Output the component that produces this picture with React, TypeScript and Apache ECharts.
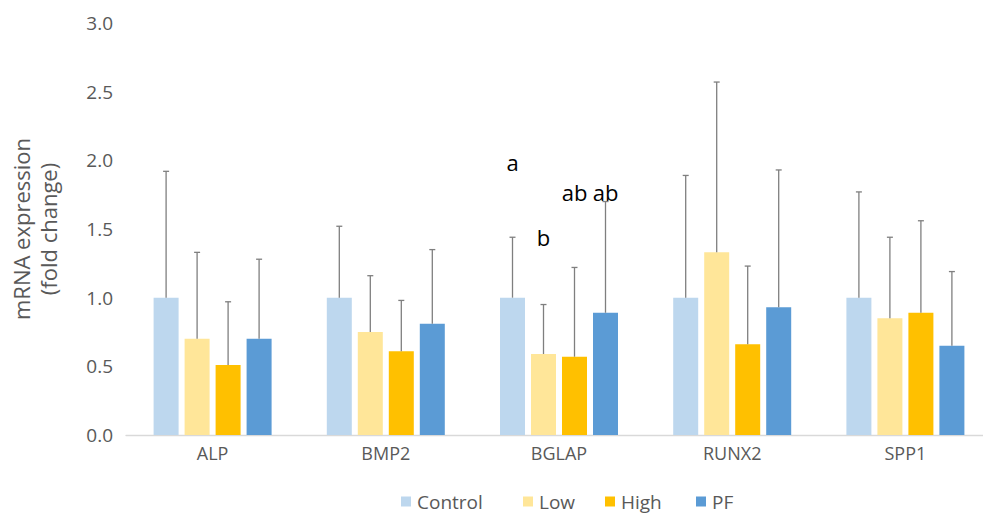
import React, { useEffect, useRef } from "react";
import * as echarts from "echarts";

const categories = ["ALP", "BMP2", "BGLAP", "RUNX2", "SPP1"];
const seriesNames = ["Control", "Low", "High", "PF"];
const controlMean = [1.0, 1.0, 1.0, 1.0, 1.0];
const controlUpper = [1.92, 1.52, 1.44, 1.89, 1.77];
const lowMean = [0.7, 0.75, 0.59, 1.33, 0.85];
const lowUpper = [1.33, 1.16, 0.95, 2.57, 1.44];
const highMean = [0.51, 0.61, 0.57, 0.66, 0.89];
const highUpper = [0.97, 0.98, 1.22, 1.23, 1.56];
const pfMean = [0.7, 0.81, 0.89, 0.93, 0.65];
const pfUpper = [1.28, 1.35, 1.7, 1.93, 1.19];
const yTicks = [0, 0.5, 1.0, 1.5, 2.0, 2.5, 3.0];
// significance letters: [category index, series index, y value, text]
const letters: [number, number, number, string][] = [
  [2, 0, 1.99, "a"],
  [2, 1, 1.44, "b"],
  [2, 2, 1.77, "ab"],
  [2, 3, 1.77, "ab"],
];

const colors = ["#BDD7EE", "#FFE699", "#FFC000", "#5B9BD5"];
const FONT = "Open Sans";
const BAR_W = 25;
const STEP = 31;

export default function App() {
  const ref = useRef<HTMLDivElement>(null);
  useEffect(() => {
    if (!ref.current) return;
    const chart = echarts.init(ref.current, null, { renderer: "svg" });
    const means = [controlMean, lowMean, highMean, pfMean];
    const uppers = [controlUpper, lowUpper, highUpper, pfUpper];

    const barSeries = seriesNames.map((name, si) => ({
      name,
      type: "bar",
      data: means[si],
      barWidth: BAR_W,
      barGap: "24%",
      itemStyle: { color: colors[si] },
      z: 2,
    }));

    const errSeries = seriesNames.map((name, si) => ({
      name: name + "-err",
      type: "custom",
      data: categories.map((_, i) => [i, means[si][i], uppers[si][i]]),
      encode: { x: 0, y: [1, 2] },
      z: 3,
      silent: true,
      renderItem: (params: any, api: any) => {
        const x = api.value(0);
        const p0 = api.coord([x, api.value(1)]);
        const p1 = api.coord([x, api.value(2)]);
        const cx = p0[0] + (si - 1.5) * STEP;
        const st = { stroke: "#7F7F7F", lineWidth: 1.3 };
        return {
          type: "group",
          children: [
            { type: "line", shape: { x1: cx, y1: p0[1], x2: cx, y2: p1[1] }, style: st },
            { type: "line", shape: { x1: cx - 3, y1: p1[1], x2: cx + 3, y2: p1[1] }, style: st },
          ],
        };
      },
    }));

    const letterSeries = {
      name: "letters",
      type: "custom",
      data: letters.map((l) => [l[0], l[1], l[2], l[3]]),
      encode: { x: 0, y: 2 },
      z: 4,
      silent: true,
      renderItem: (params: any, api: any) => {
        const x = api.value(0);
        const si = api.value(1);
        const p = api.coord([x, api.value(2)]);
        const item = letters[params.dataIndex];
        return {
          type: "text",
          x: p[0] + (si - 1.5) * STEP,
          y: p[1],
          style: {
            text: item[3],
            fontFamily: FONT,
            fontSize: 22,
            fill: "#000000",
            align: "center",
            verticalAlign: "middle",
          },
        };
      },
    };

    const legendLefts = [401, 523, 605, 696];
    chart.setOption({
      animation: false,
      backgroundColor: "#ffffff",
      grid: {
        left: 126,
        top: 23,
        width: 866,
        height: 412,
        containLabel: false,
        outerBoundsMode: "none",
      },
      legend: seriesNames.map((n, i) => ({
        data: [n],
        left: legendLefts[i],
        top: 492,
        padding: 0,
        itemWidth: 10,
        itemHeight: 10,
        icon: "rect",
        itemGap: 8,
        textStyle: {
          fontFamily: FONT,
          fontSize: 19,
          lineHeight: 19,
          color: "#595959",
          padding: [0, 0, 0, 1],
        },
        selectedMode: false,
      })),
      xAxis: {
        type: "category",
        data: categories,
        axisLine: { lineStyle: { color: "#D9D9D9", width: 1.3 } },
        axisTick: { show: false },
        axisLabel: { fontFamily: FONT, fontSize: 18, color: "#595959", margin: 9 },
      },
      yAxis: {
        type: "value",
        min: 0,
        max: 3,
        interval: 0.5,
        axisLine: { show: false },
        axisTick: { show: false },
        splitLine: { show: false },
        axisLabel: {
          fontFamily: FONT,
          fontSize: 19,
          color: "#595959",
          margin: 13,
          formatter: (v: number) => (yTicks.includes(v) ? v.toFixed(1) : ""),
        },
        name: "mRNA expression\n(fold change)",
        nameLocation: "middle",
        nameRotate: 90,
        nameGap: 65,
        nameTextStyle: { fontFamily: FONT, fontSize: 22, color: "#595959", lineHeight: 27 },
      },
      series: [...barSeries, ...errSeries, letterSeries],
    });
    return () => chart.dispose();
  }, []);
  return (
    <div
      ref={ref}
      style={{ position: "fixed", left: 0, top: 0, width: 983, height: 513 }}
    />
  );
}
